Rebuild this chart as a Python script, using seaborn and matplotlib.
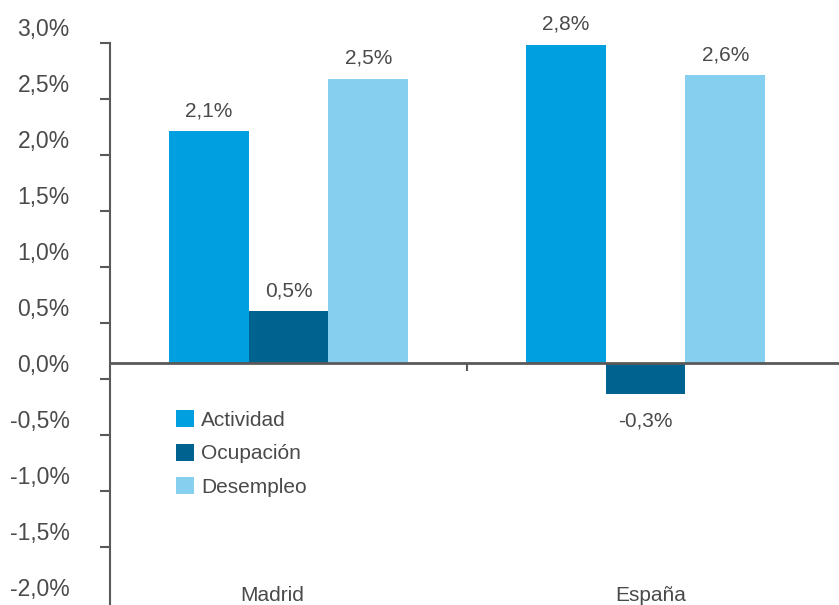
import numpy as np
import pandas as pd
import matplotlib
matplotlib.use("Agg")
import matplotlib.pyplot as plt
import seaborn as sns
from matplotlib.patches import Patch

regions = ["Madrid", "España"]
indicators = ["Actividad", "Ocupación", "Desempleo"]
actividad = [2.07, 2.84]
ocupacion = [0.46, -0.28]
desempleo = [2.54, 2.57]
y_ticks = [-2.0, -1.5, -1.0, -0.5, 0.0, 0.5, 1.0, 1.5, 2.0, 2.5, 3.0]

colors = ["#009fe0", "#00628f", "#87cfef"]
text_col = "#4a4a4a"
axis_col = "#595959"

df = pd.DataFrame({
    "region": regions * 3,
    "indicador": [indicators[0]] * 2 + [indicators[1]] * 2 + [indicators[2]] * 2,
    "valor": actividad + ocupacion + desempleo,
})

sns.set_style("white")
plt.rcParams["font.family"] = ["Liberation Sans", "DejaVu Sans"]

fig = plt.figure(figsize=(8.39, 6.05), dpi=100)
ax = fig.add_axes([110 / 839, 0, 1 - 110 / 839, 578 / 605])

sns.barplot(data=df, x="region", y="valor", hue="indicador", hue_order=indicators,
            palette=colors, width=0.672, saturation=1, errorbar=None, legend=False,
            linewidth=0, ax=ax)

ymin, ymax = -2.161, 3.0
ax.set_ylim(ymin, ymax)
ax.set_xlim(-0.5, 1.542)

# value labels over / under each bar
for cont in ax.containers:
    for bar in cont:
        h = bar.get_height()
        xc = bar.get_x() + bar.get_width() / 2
        txt = f"{h:.1f}%".replace(".", ",")
        if h >= 0:
            ax.annotate(txt, (xc, h), xytext=(0, 8), textcoords="offset points",
                        ha="center", va="bottom", fontsize=15, color=text_col)
        else:
            ax.annotate(txt, (xc, h), xytext=(0, -12), textcoords="offset points",
                        ha="center", va="top", fontsize=15, color=text_col)

# y axis: labels on the round values, tick marks slightly shifted (as in original)
ax.set_yticks(y_ticks)
ax.set_yticklabels([f"{v:.1f}%".replace(".", ",") for v in y_ticks])
ax.tick_params(axis="y", which="major", length=0, pad=29, labelsize=16.5, labelcolor=text_col)
ax.set_yticks(np.array(y_ticks[1:]) - 0.143, minor=True)
ax.tick_params(axis="y", which="minor", direction="out", length=7, width=1.5, color=axis_col, left=True)

# x axis on zero line
ax.set_xticks([0.5])
ax.set_xticklabels([""])
ax.tick_params(axis="x", direction="out", length=6, width=1.5, color=axis_col, bottom=True)
ax.set_xlabel("")
ax.set_ylabel("")

for s in ["top", "right"]:
    ax.spines[s].set_visible(False)
ax.spines["bottom"].set_position(("data", 0))
ax.spines["bottom"].set_color(axis_col)
ax.spines["bottom"].set_linewidth(2)
ax.spines["left"].set_color(axis_col)
ax.spines["left"].set_linewidth(1.5)
ax.spines["left"].set_bounds(ymin, 2.857)

for i, r in enumerate(regions):
    ax.text(i + (-0.047 if i == 0 else 0.015), -2.08, r, ha="center", va="center",
            fontsize=15, color=text_col)

handles = [Patch(facecolor=c, edgecolor="none") for c in colors]
ax.legend(handles, indicators, loc="upper left", bbox_to_anchor=(176 / 839, 1 - 410 / 605),
          bbox_transform=fig.transFigure, frameon=False, fontsize=15, labelcolor=text_col,
          handlelength=0.88, handleheight=0.9, handletextpad=0.33, labelspacing=0.66,
          borderpad=0, borderaxespad=0)

fig.savefig("out.png", dpi=100)
